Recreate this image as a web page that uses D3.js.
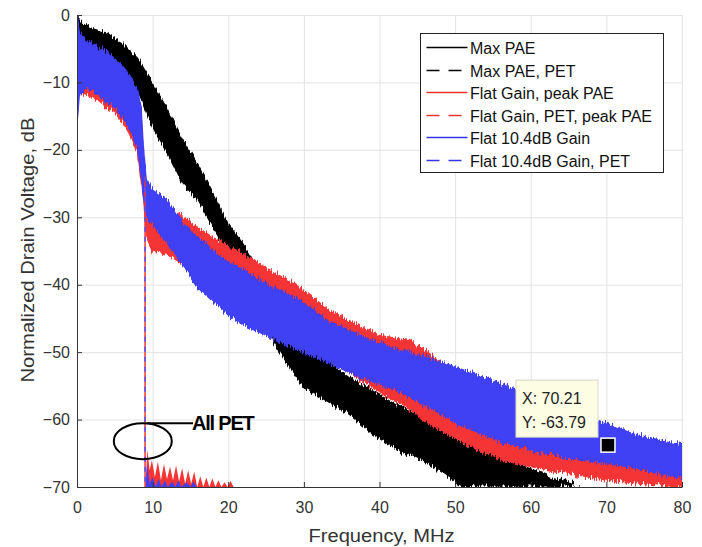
<!DOCTYPE html>
<html>
<head>
<meta charset="utf-8">
<script src="https://cdn.jsdelivr.net/npm/d3@7"></script>
<style>
  body { margin: 0; background: #fff; }
  text { font-family: "Liberation Sans", Arial, sans-serif; }
</style>
</head>
<body>
<div id="wrapper"></div>
<script>
// axis ticks
const freqTicks = [0, 10, 20, 30, 40, 50, 60, 70, 80];
const voltTicks = [0, -10, -20, -30, -40, -50, -60, -70];

// Max PAE: upper / lower edge of the noisy trace (dB)
const maxPaeF  = [0, 0.3, 1, 2, 4, 6, 8, 10, 12, 14, 16, 18, 20, 22, 24, 26, 28, 30, 33, 36, 39, 42, 45, 48, 51, 54, 57, 60, 63, 65.5, 66.5];
const maxPaeHi = [-1.2, -0.6, -1.5, -2, -2.7, -4.2, -6.4, -10.1, -14.1, -18.6, -22.3, -26.5, -31, -34, -38, -42, -46, -49, -51.3, -53.8, -55.7, -57.7, -59.4, -61.7, -63.6, -65.1, -66.1, -67.3, -68.6, -69.6, -70];
const maxPaeLo = [-4, -4, -4.2, -4.7, -5.4, -7.7, -11.1, -16.6, -20.5, -25, -27.5, -31.5, -35.4, -38, -42, -48.5, -52, -55.3, -57.2, -59.2, -62.1, -64.2, -65.7, -67.6, -69.9, -70, -70, -70, -70, -70, -70];

// Flat Gain, peak PAE
const flatGainF  = [0.3, 1, 2, 3, 4, 5, 6, 7, 8, 8.5, 8.8, 9.2, 10, 12, 14, 16, 18, 20, 22, 25, 29.5, 33, 36, 40, 44, 47, 52, 56, 60, 65, 70, 75, 80];
const flatGainHi = [-9.5, -10, -10.5, -11, -12, -13, -14.5, -16.5, -19, -21, -24, -29, -29.3, -29, -30, -31.5, -33, -34.2, -35.5, -37.5, -40.4, -43.5, -45.3, -47.5, -48.3, -50.5, -54.5, -56.5, -58, -60, -62, -63.5, -64.5];
const flatGainLo = [-11.5, -11.8, -12.2, -12.8, -13.8, -14.3, -15.8, -17.8, -20.3, -24.8, -27, -33, -35, -35.5, -37, -39, -41, -43, -44.5, -46, -48.5, -51, -53, -56, -58.5, -61, -64, -66, -67, -68, -69, -69.5, -70];

// Flat 10.4dB Gain
const flat104F  = [0, 0.3, 1, 2, 3, 4, 5, 6, 7, 8, 8.5, 8.8, 9.2, 10, 12, 14, 16, 18, 20, 22, 25, 29.5, 33, 38, 42, 47, 52, 56, 60, 65, 70, 73.5, 77, 80];
const flat104Hi = [0, -2.5, -3.5, -4.5, -5, -5.5, -6.5, -7.5, -9, -11, -14, -20, -24.5, -26, -27.5, -31, -33, -34.8, -36.6, -37.8, -39.8, -42.3, -45.2, -47.8, -49.5, -51, -53, -54.7, -56.5, -58.7, -60.5, -62.1, -63, -63.6];
const flat104Lo = [-16.5, -12, -11, -11, -12, -13, -13.5, -15, -17, -19.5, -24, -27, -30, -31, -34, -37, -40.5, -42.5, -44.5, -46, -47.5, -49.8, -51.5, -54, -55.5, -58.5, -61.5, -63.2, -64.5, -65.7, -66.5, -67.1, -68, -68.6];

// PET traces: drop at the envelope bandwidth, then residue near the floor
const petCliffF = [9.0, 9.0];
const petCliffV = [-24, -70];
const flatGainPetF = [9.05, 9.3, 9.6, 9.9, 10.3, 10.7, 11.1, 11.5, 11.9, 12.3, 12.7, 13.1, 13.5, 13.9, 14.3, 14.7, 15.1, 15.5, 15.9, 16.3, 16.7, 17.1, 17.5, 17.9, 18.3, 18.7, 19.1, 19.5, 19.9, 20.3, 20.7];
const flatGainPetV = [-70, -64.4, -67.5, -66, -68.5, -66.2, -69, -66.6, -68.8, -67, -69, -66.8, -69.2, -67.2, -69.5, -67.5, -69.5, -67.7, -70, -68.4, -70, -68.6, -70, -68.7, -70, -69, -70, -69.3, -70, -69.1, -70];
const flat104PetF = [9.05, 9.3, 9.6, 10.0, 10.4, 10.8, 11.2, 11.6, 12.0, 12.6, 13.0, 13.4, 13.8, 14.5, 15.0, 15.4, 15.8];
const flat104PetV = [-70, -66.5, -69.5, -68.5, -70, -68.8, -70, -69.0, -70, -69.2, -70, -69.0, -70, -69.3, -70, -69.2, -70];

const legendLabels = ["Max PAE", "Max PAE, PET", "Flat Gain, peak PAE", "Flat Gain, PET, peak PAE", "Flat 10.4dB Gain", "Flat 10.4dB Gain, PET"];
const legendColors = ["#000000", "#000000", "#ee3333", "#ee3333", "#3535e8", "#3535e8"];
const legendDashed = [false, true, false, true, false, true];

const tipX = 70.21, tipY = -63.79;

function drawChart() {
	const width = 702, height = 547;
	const margin = {left: 77, right: 20, top: 15, bottom: 60};

	const svg = d3.select("#wrapper").append("svg")
		.attr("width", width)
		.attr("height", height);

	const x = d3.scaleLinear().domain([0, 80]).range([margin.left, width - margin.right]);
	const y = d3.scaleLinear().domain([-70, 0]).range([height - margin.bottom, margin.top]);

	const defs = svg.append("defs");
	defs.append("clipPath").attr("id", "plot")
		.append("rect")
		.attr("x", x(0)).attr("y", y(0))
		.attr("width", x(80) - x(0)).attr("height", y(-70) - y(0));

	// rough vertical edge texture so the filled envelopes look like a dense noisy trace
	const rough = defs.append("filter").attr("id", "rough")
		.attr("x", "-5%").attr("y", "-5%").attr("width", "110%").attr("height", "110%");
	rough.append("feTurbulence")
		.attr("type", "fractalNoise").attr("baseFrequency", "0.8 0.03")
		.attr("numOctaves", 2).attr("seed", 3).attr("result", "n");
	rough.append("feColorMatrix")
		.attr("in", "n").attr("type", "matrix")
		.attr("values", "0 0 0 0 0.5  0 1 0 0 0  0 0 1 0 0  0 0 0 0 1")
		.attr("result", "m");
	rough.append("feDisplacementMap")
		.attr("in", "SourceGraphic").attr("in2", "m")
		.attr("scale", 11).attr("xChannelSelector", "R").attr("yChannelSelector", "G");

	// grid
	const grid = svg.append("g").attr("stroke", "#e3e3e3").attr("stroke-width", 1);
	grid.selectAll(".gx").data(freqTicks).enter().append("line")
		.attr("x1", d => x(d) + 0.5).attr("x2", d => x(d) + 0.5)
		.attr("y1", y(0)).attr("y2", y(-70));
	grid.selectAll(".gy").data(voltTicks).enter().append("line")
		.attr("x1", x(0)).attr("x2", x(80))
		.attr("y1", d => y(d) + 0.5).attr("y2", d => y(d) + 0.5);

	const clipG = svg.append("g").attr("clip-path", "url(#plot)");
	const bands = clipG.append("g").attr("filter", "url(#rough)");
	const area = d3.area()
		.x(d => x(d[0]))
		.y0(d => y(d[2]))
		.y1(d => y(d[1]));
	const line = d3.line().x(d => x(d[0])).y(d => y(d[1]));

	function band(f, hi, lo, col) {
		const pts = f.map((v, i) => [v, hi[i], lo[i]]);
		bands.append("path").attr("d", area(pts))
			.attr("fill", col).attr("stroke", col).attr("stroke-width", 1.2);
	}
	function residue(f, v, col) {
		const pts = f.map((d, i) => [d, v[i], -71]);
		clipG.append("path").attr("d", area(pts)).attr("fill", col);
	}

	band(maxPaeF, maxPaeHi, maxPaeLo, "#000");
	band(flatGainF, flatGainHi, flatGainLo, "#f53535");
	band(flat104F, flat104Hi, flat104Lo, "#3f3ff5");
	residue(flatGainPetF, flatGainPetV, "#f53535");
	residue(flat104PetF, flat104PetV, "#3f3ff5");
	const cliff = petCliffF.map((d, i) => [d, petCliffV[i]]);
	clipG.append("path").attr("d", line(cliff))
		.attr("stroke", "#f53535").attr("stroke-width", 1.5).attr("fill", "none");
	clipG.append("path").attr("d", line(cliff))
		.attr("stroke", "#4f4ff0").attr("stroke-width", 1.5)
		.attr("stroke-dasharray", "5,5").attr("fill", "none");

	// axes
	const xAxis = d3.axisBottom(x).tickValues(freqTicks).tickSizeInner(-5).tickSizeOuter(0).tickPadding(15);
	const yAxis = d3.axisLeft(y).tickValues(voltTicks).tickSizeInner(-5).tickSizeOuter(0).tickPadding(7);
	const gx = svg.append("g").attr("transform", `translate(0,${y(-70)})`).call(xAxis);
	const gy = svg.append("g").attr("transform", `translate(${x(0)},0)`).call(yAxis);
	[gx, gy].forEach(g => {
		g.selectAll("path, line").attr("stroke", "#333");
		g.selectAll("text").attr("fill", "#333").style("font-size", "16px")
			.style("font-family", '"Liberation Sans", Arial, sans-serif');
	});

	svg.append("text")
		.attr("x", (x(0) + x(80)) / 2 + 2).attr("y", 542)
		.attr("text-anchor", "middle").attr("fill", "#333")
		.attr("textLength", 146).attr("lengthAdjust", "spacingAndGlyphs")
		.style("font-size", "18px")
		.text("Frequency, MHz");
	svg.append("text")
		.attr("transform", "translate(33.5,250) rotate(-90)")
		.attr("text-anchor", "middle").attr("fill", "#333")
		.attr("textLength", 265).attr("lengthAdjust", "spacingAndGlyphs")
		.style("font-size", "18px")
		.text("Normalized Drain Voltage, dB");

	// "All PET" annotation
	svg.append("ellipse")
		.attr("cx", x(8.7)).attr("cy", y(-63.2)).attr("rx", 29).attr("ry", 18)
		.attr("fill", "none").attr("stroke", "#000").attr("stroke-width", 2);
	svg.append("line")
		.attr("x1", x(8.7) + 4).attr("x2", 193)
		.attr("y1", y(-63.2) - 18).attr("y2", y(-63.2) - 18)
		.attr("stroke", "#000").attr("stroke-width", 2);
	svg.append("text")
		.attr("x", 192).attr("y", 430)
		.attr("font-weight", "bold").attr("letter-spacing", -1.2)
		.style("font-size", "20px")
		.text("All PET");

	// data tip
	const tx = x(tipX), ty = y(tipY);
	svg.append("rect")
		.attr("x", tx - 92).attr("y", ty - 65).attr("width", 82).attr("height", 57)
		.attr("fill", "#fdfde4").attr("stroke", "#d6d6c8");
	svg.append("text").attr("x", tx - 86).attr("y", ty - 41)
		.attr("fill", "#222").style("font-size", "16px").text("X: " + tipX);
	svg.append("text").attr("x", tx - 86).attr("y", ty - 17)
		.attr("fill", "#222").style("font-size", "16px").text("Y: " + tipY);
	svg.append("rect")
		.attr("x", tx - 7).attr("y", ty - 7).attr("width", 14).attr("height", 14)
		.attr("fill", "#000").attr("stroke", "#fff").attr("stroke-width", 1.5);

	// legend
	const entries = legendLabels.map((t, i) => ({label: t, color: legendColors[i], dashed: legendDashed[i]}));
	const lg = svg.append("g").attr("transform", "translate(420.5,33.5)");
	lg.append("rect").attr("width", 243).attr("height", 139)
		.attr("fill", "#fff").attr("stroke", "#222");
	const rows = lg.selectAll(".row").data(entries).enter().append("g")
		.attr("class", "row")
		.attr("transform", (d, i) => `translate(0,${Math.round(14 + i * 22.5)})`);
	rows.append("line")
		.attr("x1", 6).attr("x2", 47)
		.attr("stroke", d => d.color)
		.attr("stroke-width", 1.3)
		.attr("stroke-dasharray", d => d.dashed ? "13,9" : null);
	rows.append("text")
		.attr("x", 49.5).attr("y", 6)
		.attr("fill", "#111").style("font-size", "16px")
		.text(d => d.label);
}
drawChart();
</script>
</body>
</html>
